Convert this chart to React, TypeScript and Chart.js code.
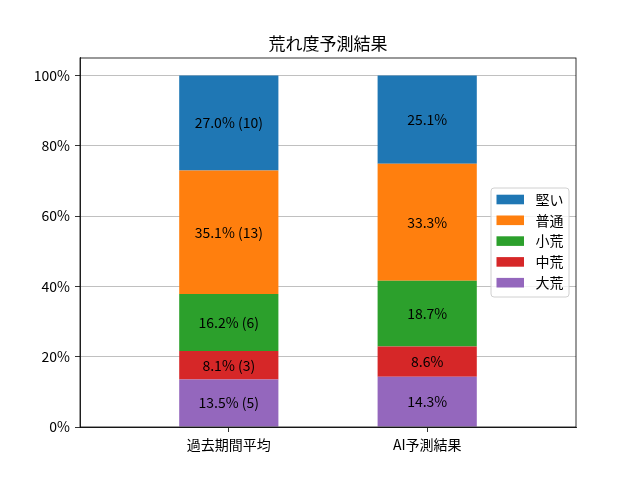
import { useEffect, useRef } from "react";
import { Chart, registerables, Plugin } from "chart.js";

Chart.register(...registerables);

const categories = ["過去期間平均", "AI予測結果"];
const seriesNames = ["大荒", "中荒", "小荒", "普通", "堅い"];
const seriesColors = ["#9467bd", "#d62728", "#2ca02c", "#ff7f0e", "#1f77b4"];
// percentages, bottom to top
const pastValues = [13.51, 8.11, 16.22, 35.14, 27.03];
const aiValues = [14.3, 8.6, 18.7, 33.3, 25.1];
const pastCounts = [5, 3, 6, 13, 10];
const yTicks = [0, 20, 40, 60, 80, 100];

const FONT = "'Noto Sans CJK JP', 'DejaVu Sans', sans-serif";

const frameAndLabels: Plugin = {
  id: "frameAndLabels",
  afterDatasetsDraw(chart) {
    const { ctx, chartArea } = chart;
    ctx.save();
    ctx.strokeStyle = "#000";
    ctx.lineWidth = 0.8;
    ctx.strokeRect(chartArea.left, chartArea.top, chartArea.right - chartArea.left, chartArea.bottom - chartArea.top);

    ctx.fillStyle = "#000";
    ctx.font = `14px ${FONT}`;
    ctx.textAlign = "center";
    ctx.textBaseline = "middle";
    chart.data.datasets.forEach((ds, i) => {
      const meta = chart.getDatasetMeta(i);
      meta.data.forEach((el, j) => {
        const p = el.getProps(["x", "y", "base"], true) as any;
        const v = (ds.data[j] as any).y as number;
        let text = `${v.toFixed(1)}%`;
        if (j === 0) text += ` (${pastCounts[i]})`;
        ctx.fillText(text, p.x, (p.y + p.base) / 2);
      });
    });
    ctx.restore();
  },
};

const insideLegend: Plugin = {
  id: "insideLegend",
  afterDraw(chart) {
    const { ctx, chartArea } = chart;
    const w = 78;
    const h = 109;
    const right = chartArea.right - 7;
    const left = right - w;
    const top = (chartArea.top + chartArea.bottom) / 2 - h / 2;
    ctx.save();
    ctx.beginPath();
    ctx.roundRect(left, top, w, h, 3);
    ctx.fillStyle = "rgba(255,255,255,0.8)";
    ctx.fill();
    ctx.strokeStyle = "#d0d0d0";
    ctx.lineWidth = 1;
    ctx.stroke();
    ctx.font = `14px ${FONT}`;
    ctx.textBaseline = "middle";
    ctx.textAlign = "left";
    const order = chart.data.datasets.map((_, i) => i).reverse();
    order.forEach((di, k) => {
      const ds = chart.data.datasets[di];
      const cy = top + 11.5 + k * 20.8;
      ctx.fillStyle = ds.backgroundColor as string;
      ctx.fillRect(left + 5.5, cy - 4.8, 27.5, 9.6);
      ctx.fillStyle = "#000";
      ctx.fillText(ds.label as string, left + 44.5, cy);
    });
    ctx.restore();
  },
};

export default function App() {
  const canvasRef = useRef<HTMLCanvasElement>(null);
  const chartRef = useRef<Chart | null>(null);

  useEffect(() => {
    document.body.style.margin = "0";
    if (!canvasRef.current) return;
    if (chartRef.current) chartRef.current.destroy();

    chartRef.current = new Chart(canvasRef.current, {
      type: "bar",
      data: {
        datasets: seriesNames.map((name, i) => ({
          label: name,
          data: [
            { x: 0, y: pastValues[i] },
            { x: 1, y: aiValues[i] },
          ],
          backgroundColor: seriesColors[i],
          borderWidth: 0,
          categoryPercentage: 0.5,
          barPercentage: 1,
        })),
      },
      options: {
        responsive: false,
        animation: false,
        devicePixelRatio: 1,
        layout: { padding: { left: 0, right: 64, top: 0, bottom: 0 } },
        plugins: {
          legend: { display: false },
          tooltip: { enabled: false },
          title: {
            display: true,
            text: "荒れ度予測結果",
            fullSize: false,
            color: "#000",
            font: { family: FONT, size: 17, weight: "normal" },
            padding: { top: 33.8, bottom: 3.8 },
          },
        },
        scales: {
          x: {
            type: "linear",
            stacked: true,
            offset: false,
            min: -0.75,
            max: 1.75,
            afterBuildTicks: (axis) => {
              axis.ticks = categories.map((_, i) => ({ value: i }));
            },
            afterFit: (axis) => {
              axis.height = 53;
            },
            ticks: {
              color: "#000",
              padding: 4,
              maxRotation: 0,
              font: { family: FONT, size: 14 },
              callback: (v) => categories[Number(v)] ?? "",
            },
            grid: {
              display: true,
              offset: false,
              drawOnChartArea: false,
              drawTicks: true,
              tickLength: 5,
              tickColor: "#000",
              tickWidth: 0.8,
            },
            border: { display: true, color: "#000", width: 0.8 },
          },
          y: {
            type: "linear",
            stacked: true,
            min: 0,
            max: 105,
            afterBuildTicks: (axis) => {
              axis.ticks = yTicks.map((v) => ({ value: v }));
            },
            afterFit: (axis) => {
              axis.width = 80;
            },
            ticks: {
              color: "#000",
              padding: 5,
              font: { family: FONT, size: 14 },
              callback: (v) => `${v}%`,
            },
            grid: {
              color: "#b0b0b0",
              lineWidth: 0.8,
              tickLength: 5,
              tickColor: "#000",
              tickWidth: 0.8,
            },
            border: { display: true, color: "#000", width: 0.8 },
          },
        },
      },
      plugins: [frameAndLabels, insideLegend],
    });

    return () => {
      if (chartRef.current) {
        chartRef.current.destroy();
        chartRef.current = null;
      }
    };
  }, []);

  return (
    <div style={{ width: 640, height: 480, background: "#fff" }}>
      <canvas ref={canvasRef} width={640} height={480}></canvas>
    </div>
  );
}
